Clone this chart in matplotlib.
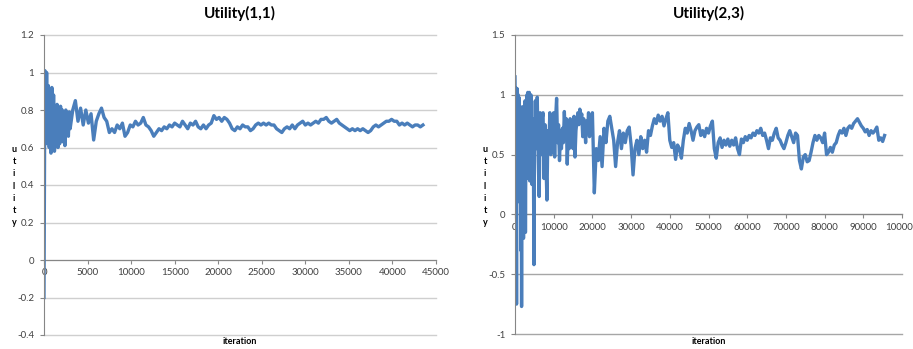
import numpy as np
import matplotlib.pyplot as plt
from matplotlib.ticker import MultipleLocator, FuncFormatter

plt.rcParams['font.family'] = ['Lato', 'DejaVu Sans']

# ===== Data: Utility(1,1) =====
# first part sampled every 100 iterations (0..3000)
u11_start = [
    -0.20, 1.01, 0.62, 1.00, 0.66, 0.93, 0.60, 0.90, 0.57, 0.92,
    0.62, 0.88, 0.58, 0.80, 0.65, 0.83, 0.60, 0.78, 0.62, 0.82,
    0.66, 0.80, 0.63, 0.78, 0.61, 0.80, 0.68, 0.76, 0.66, 0.79,
    0.70,
]
# then every 300 iterations (3300..43500)
u11_rest = [
    0.80, 0.85, 0.74, 0.81, 0.72, 0.80, 0.73, 0.78, 0.64, 0.74,
    0.78, 0.81, 0.76, 0.74, 0.68, 0.70, 0.68, 0.72, 0.70, 0.73,
    0.66, 0.68, 0.72, 0.71, 0.74, 0.72, 0.73, 0.76, 0.72, 0.71,
    0.69, 0.66, 0.68, 0.70, 0.69, 0.71, 0.70, 0.72, 0.71, 0.73,
    0.72, 0.71, 0.74, 0.72, 0.70, 0.73, 0.72, 0.74, 0.71, 0.70,
    0.72, 0.70, 0.72, 0.73, 0.77, 0.75, 0.76, 0.74, 0.76, 0.75,
    0.73, 0.70, 0.69, 0.71, 0.70, 0.72, 0.71, 0.71, 0.69, 0.70,
    0.72, 0.73, 0.72, 0.73, 0.72, 0.73, 0.72, 0.72, 0.70, 0.69,
    0.68, 0.70, 0.71, 0.70, 0.72, 0.70, 0.72, 0.73, 0.74, 0.72,
    0.73, 0.72, 0.73, 0.74, 0.73, 0.75, 0.75, 0.76, 0.74, 0.73,
    0.74, 0.75, 0.73, 0.72, 0.71, 0.70, 0.69, 0.70, 0.69, 0.70,
    0.69, 0.70, 0.69, 0.68, 0.69, 0.71, 0.72, 0.71, 0.72, 0.73,
    0.74, 0.74, 0.75, 0.74, 0.74, 0.72, 0.73, 0.72, 0.73, 0.72,
    0.71, 0.72, 0.72, 0.71, 0.72,
]

# ===== Data: Utility(2,3) =====
# 0..5000 every 100
u23_a = [
    1.15, 0.80, 1.06, 0.40, -0.75, 0.75, 1.05, 0.75, 1.00, 0.60,
    0.98, 0.30, 0.90, 0.10, 0.80, -0.30, 0.60, -0.77, 0.40, 0.90,
    -0.10, 0.70, -0.20, 0.85, -0.15, 0.60, 0.95, -0.15, 0.50, 0.90,
    0.30, 1.00, 0.45, 1.02, 0.30, 0.95, 0.55, 1.02, 0.28, 0.85,
    0.45, 1.00, 0.35, 0.80, 0.25, 0.70, 0.40, 0.80, 0.20, -0.42,
    0.60,
]
# 5250..20000 every 250
u23_b = [
    0.95, 0.55, 0.98, 0.45, 0.15, 0.85, 0.50, 0.80, 0.85, 0.30,
    0.75, 0.45, 0.12, 0.70, 0.55, 0.85, 0.50, 0.78, 0.60, 0.85,
    0.48, 0.80, 0.97, 0.60, 0.75, 0.45, 0.70, 0.55, 0.72, 0.60,
    0.86, 0.65, 0.80, 0.42, 0.70, 0.55, 0.80, 0.60, 0.75, 0.55,
    0.82, 0.48, 0.70, 0.78, 0.85, 0.75, 0.88, 0.80, 0.84, 0.65,
    0.80, 0.72, 0.60, 0.78, 0.70, 0.85, 0.65, 0.82, 0.75, 0.85,
]
# 20500..95500 every 500
u23_c = [
    0.18, 0.55, 0.45, 0.65, 0.40, 0.72, 0.60, 0.78, 0.82, 0.72,
    0.62, 0.40, 0.60, 0.70, 0.55, 0.68, 0.60, 0.70, 0.73, 0.58,
    0.33, 0.55, 0.62, 0.50, 0.65, 0.55, 0.62, 0.52, 0.70, 0.66,
    0.74, 0.80, 0.76, 0.83, 0.78, 0.82, 0.74, 0.80, 0.85, 0.62,
    0.56, 0.60, 0.46, 0.58, 0.55, 0.47, 0.62, 0.72, 0.68, 0.76,
    0.70, 0.62, 0.70, 0.73, 0.75, 0.66, 0.70, 0.65, 0.72, 0.68,
    0.74, 0.78, 0.55, 0.47, 0.60, 0.64, 0.56, 0.62, 0.58, 0.63,
    0.57, 0.62, 0.58, 0.64, 0.55, 0.50, 0.63, 0.60, 0.65, 0.62,
    0.66, 0.64, 0.68, 0.66, 0.70, 0.68, 0.72, 0.66, 0.68, 0.62,
    0.55, 0.64, 0.62, 0.68, 0.72, 0.64, 0.62, 0.58, 0.55, 0.60,
    0.66, 0.70, 0.65, 0.60, 0.68, 0.66, 0.45, 0.38, 0.48, 0.50,
    0.44, 0.45, 0.52, 0.60, 0.66, 0.62, 0.66, 0.64, 0.60, 0.68,
    0.50, 0.52, 0.56, 0.52, 0.58, 0.60, 0.66, 0.70, 0.68, 0.72,
    0.66, 0.72, 0.74, 0.72, 0.76, 0.78, 0.80, 0.77, 0.74, 0.72,
    0.69, 0.71, 0.66, 0.70, 0.68, 0.70, 0.73, 0.62, 0.64, 0.61,
    0.66,
]

it11 = np.concatenate([100 * np.arange(len(u11_start)),
                       3300 + 300 * np.arange(len(u11_rest))])
y11 = np.array(u11_start + u11_rest)

it23 = np.concatenate([100 * np.arange(len(u23_a)),
                       5250 + 250 * np.arange(len(u23_b)),
                       20500 + 500 * np.arange(len(u23_c))])
y23 = np.array(u23_a + u23_b + u23_c)

W, H = 913, 349
fig = plt.figure(figsize=(W / 100, H / 100), dpi=100)

LINE = '#4A7EBB'
AXC = '#868686'
TXT = '#404040'


def panel(rect, x, y, xmax, xstep, ylo, yhi, ystep, gridc, title, ylab_x):
    l, t, r, b = rect
    ax = fig.add_axes([l / W, 1 - b / H, (r - l) / W, (b - t) / H])
    ax.plot(x, y, color=LINE, lw=2.4)
    ax.set_xlim(0, xmax)
    ax.set_ylim(ylo, yhi)
    ax.xaxis.set_major_locator(MultipleLocator(xstep))
    ax.yaxis.set_major_locator(MultipleLocator(ystep))
    fmt = FuncFormatter(lambda v, p: '%g' % round(v, 6))
    ax.xaxis.set_major_formatter(fmt)
    ax.yaxis.set_major_formatter(fmt)

    for s in ('top', 'right'):
        ax.spines[s].set_visible(False)
    ax.spines['bottom'].set_position(('data', 0))
    ax.spines['bottom'].set_color(AXC)
    ax.spines['left'].set_color(AXC)
    ax.spines['bottom'].set_zorder(1)

    ax.yaxis.grid(True, color=gridc, lw=1.0)
    ax.set_axisbelow(True)
    for gl in ax.get_ygridlines():
        gl.set_clip_on(False)

    ax.tick_params(axis='x', direction='out', length=3, width=0.8,
                   color=AXC, labelsize=7, labelcolor=TXT, pad=3)
    ax.tick_params(axis='y', direction='out', length=3, width=0.8,
                   color=AXC, labelsize=7, labelcolor=TXT, pad=4)

    cx = (l + r) / 2
    fig.text(cx / W, 1 - 13 / H, title, ha='center', va='center',
             fontsize=11, fontweight='bold', color='black')
    fig.text(cx / W, 1 - 342 / H, 'iteration', ha='center', va='center',
             fontsize=6.5, fontweight='bold', color='black')
    fig.text(ylab_x / W, 1 - 186 / H, '\n'.join('utility'), ha='center',
             va='center', fontsize=6.5, fontweight='bold', color='black',
             linespacing=1.45)
    return ax


panel((44, 35, 436, 335), it11, y11, 45000, 5000, -0.4, 1.2, 0.2,
      '#CFCFCF', 'Utility(1,1)', 14)
panel((515, 35, 902, 334), it23, y23, 100000, 10000, -1.0, 1.5, 0.5,
      '#A6A6A6', 'Utility(2,3)', 485)

fig.savefig('out.png', dpi=100)
